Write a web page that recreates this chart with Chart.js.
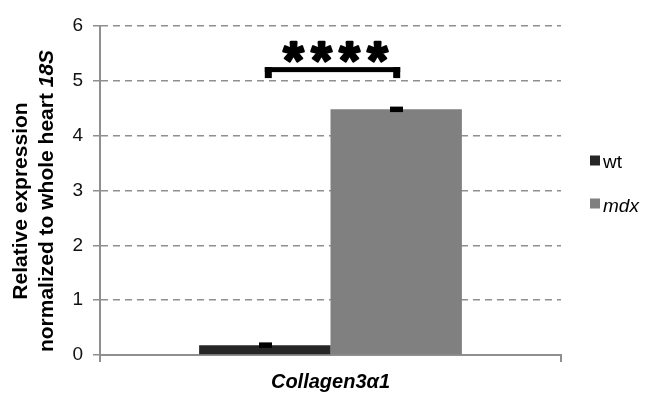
<!DOCTYPE html>
<html>
<head>
<meta charset="utf-8">
<script src="https://cdn.jsdelivr.net/npm/chart.js@4"></script>
<style>
  html, body { margin: 0; padding: 0; background: #fff; }
  canvas { display: block; }
</style>
</head>
<body>
<canvas id="chart" width="658" height="393"></canvas>
<script>
// data
const categories = ["Collagen3\u03b11"];
const seriesNames = ["wt", "mdx"];
const wtValues = [0.18];
const mdxValues = [4.48];
const wtErrors = [0.05];
const mdxErrors = [0.05];
const yMin = 0, yMax = 6, yStep = 1;
const sigLabel = "****";
const bracketTop = 5.25;     // top of the significance bracket
const bracketBottom = 5.05;  // bottom of its legs

const FONT = "'Liberation Sans', Arial, sans-serif";
const GRID = "#8f8f8f";
const colors = ["#262626", "#808080"];
const errors = [wtErrors, mdxErrors];

// error caps, bracket and stars
const marksPlugin = {
  id: "marks",
  afterDatasetsDraw(chart) {
    const ctx = chart.ctx;
    const y = chart.scales.y;
    ctx.save();
    ctx.fillStyle = "#000";
    chart.data.datasets.forEach((ds, di) => {
      const meta = chart.getDatasetMeta(di);
      meta.data.forEach((bar, i) => {
        const v = ds.data[i], e = errors[di][i];
        const top = y.getPixelForValue(v + e);
        const bot = y.getPixelForValue(v - e);
        ctx.fillRect(Math.round(bar.x) - 6, top, 13, bot - top);
      });
    });

    // significance bracket between the two bars
    const x1 = chart.getDatasetMeta(0).data[0].x;
    const x2 = chart.getDatasetMeta(1).data[0].x;
    const yTop = y.getPixelForValue(bracketTop);
    const yBot = y.getPixelForValue(bracketBottom);
    ctx.fillRect(x1, yTop, x2 + 4 - x1, 5);
    ctx.fillRect(x1, yTop, 7, yBot - yTop);
    ctx.fillRect(x2 - 3, yTop, 7, yBot - yTop);

    // stars, sized from the glyph box
    ctx.font = "bold 100px " + FONT;
    const m = ctx.measureText("*");
    const gh = m.actualBoundingBoxAscent + m.actualBoundingBoxDescent;
    const size = 100 * 20 / gh;
    ctx.font = "bold " + size + "px " + FONT;
    const m2 = ctx.measureText("*");
    const base = yTop - 25 + m2.actualBoundingBoxAscent;
    ctx.textAlign = "center";
    ctx.textBaseline = "alphabetic";
    ctx.strokeStyle = "#000";
    ctx.lineWidth = 2.5;
    ctx.lineJoin = "round";
    const cx = (x1 + x2) / 2 + 5;
    const n = sigLabel.length;
    for (let k = 0; k < n; k++) {
      ctx.fillText(sigLabel[k], cx + (k - (n - 1) / 2) * 28, base);
      ctx.strokeText(sigLabel[k], cx + (k - (n - 1) / 2) * 28, base);
    }
    ctx.restore();
  },
  afterDraw(chart) {
    const ctx = chart.ctx;
    const area = chart.chartArea;
    ctx.save();
    ctx.fillStyle = "#000";

    // y title, two rotated lines, 18S in italic
    const cy = 201;
    ctx.save();
    ctx.translate(27, cy);
    ctx.rotate(-Math.PI / 2);
    ctx.font = "bold 21px " + FONT;
    ctx.textAlign = "center";
    ctx.textBaseline = "alphabetic";
    ctx.fillText("Relative expression", 0, 0);
    ctx.restore();

    ctx.save();
    ctx.translate(53, cy);
    ctx.rotate(-Math.PI / 2);
    ctx.textBaseline = "alphabetic";
    ctx.textAlign = "left";
    const partA = "normalized to whole heart ";
    const partB = "18S";
    ctx.font = "bold 21px " + FONT;
    const wA = ctx.measureText(partA).width;
    ctx.font = "italic bold 21px " + FONT;
    const wB = ctx.measureText(partB).width;
    const start = -(wA + wB) / 2;
    ctx.font = "bold 21px " + FONT;
    ctx.fillText(partA, start, 0);
    ctx.font = "italic bold 21px " + FONT;
    ctx.fillText(partB, start + wA, 0);
    ctx.restore();

    // category label
    ctx.font = "italic bold 20px " + FONT;
    ctx.textAlign = "center";
    ctx.textBaseline = "alphabetic";
    ctx.fillText(categories[0], (area.left + area.right) / 2, 388);

    // legend
    const legendY = [160.5, 203.5];
    const legendBase = [167.5, 211.5];
    seriesNames.forEach((name, i) => {
      ctx.fillStyle = colors[i];
      ctx.fillRect(590, legendY[i] - 5, 10, 10);
      ctx.fillStyle = "#000";
      ctx.font = (i === 1 ? "italic " : "") + "19px " + FONT;
      ctx.textAlign = "left";
      ctx.fillText(name, 603, legendBase[i]);
    });
    ctx.restore();
  }
};

new Chart(document.getElementById("chart"), {
  type: "bar",
  data: {
    labels: categories,
    datasets: [
      { label: seriesNames[0], data: wtValues, backgroundColor: colors[0], borderWidth: 0 },
      { label: seriesNames[1], data: mdxValues, backgroundColor: colors[1], borderWidth: 0 }
    ]
  },
  options: {
    responsive: false,
    animation: false,
    devicePixelRatio: 1,
    layout: { padding: { top: 26, right: 97, bottom: 0, left: 0 } },
    datasets: { bar: { categoryPercentage: 0.57, barPercentage: 1 } },
    scales: {
      x: {
        afterFit: s => { s.height = 38; },
        ticks: { display: false },
        grid: { drawOnChartArea: false, drawTicks: true, tickLength: 7, color: GRID, lineWidth: 2, offset: true },
        border: { display: true, color: GRID, width: 2 }
      },
      y: {
        min: yMin, max: yMax,
        afterFit: s => { s.width = 100; },
        ticks: { stepSize: yStep, padding: 10, color: "#111", font: { family: FONT, size: 19 } },
        grid: { color: GRID, lineWidth: 1.5, tickLength: 7, tickColor: GRID, tickWidth: 1.5, tickBorderDash: [7, 5] },
        border: { display: true, color: GRID, width: 2, dash: [7, 5] }
      }
    },
    plugins: { legend: { display: false }, tooltip: { enabled: false } }
  },
  plugins: [marksPlugin]
});
</script>
</body>
</html>
